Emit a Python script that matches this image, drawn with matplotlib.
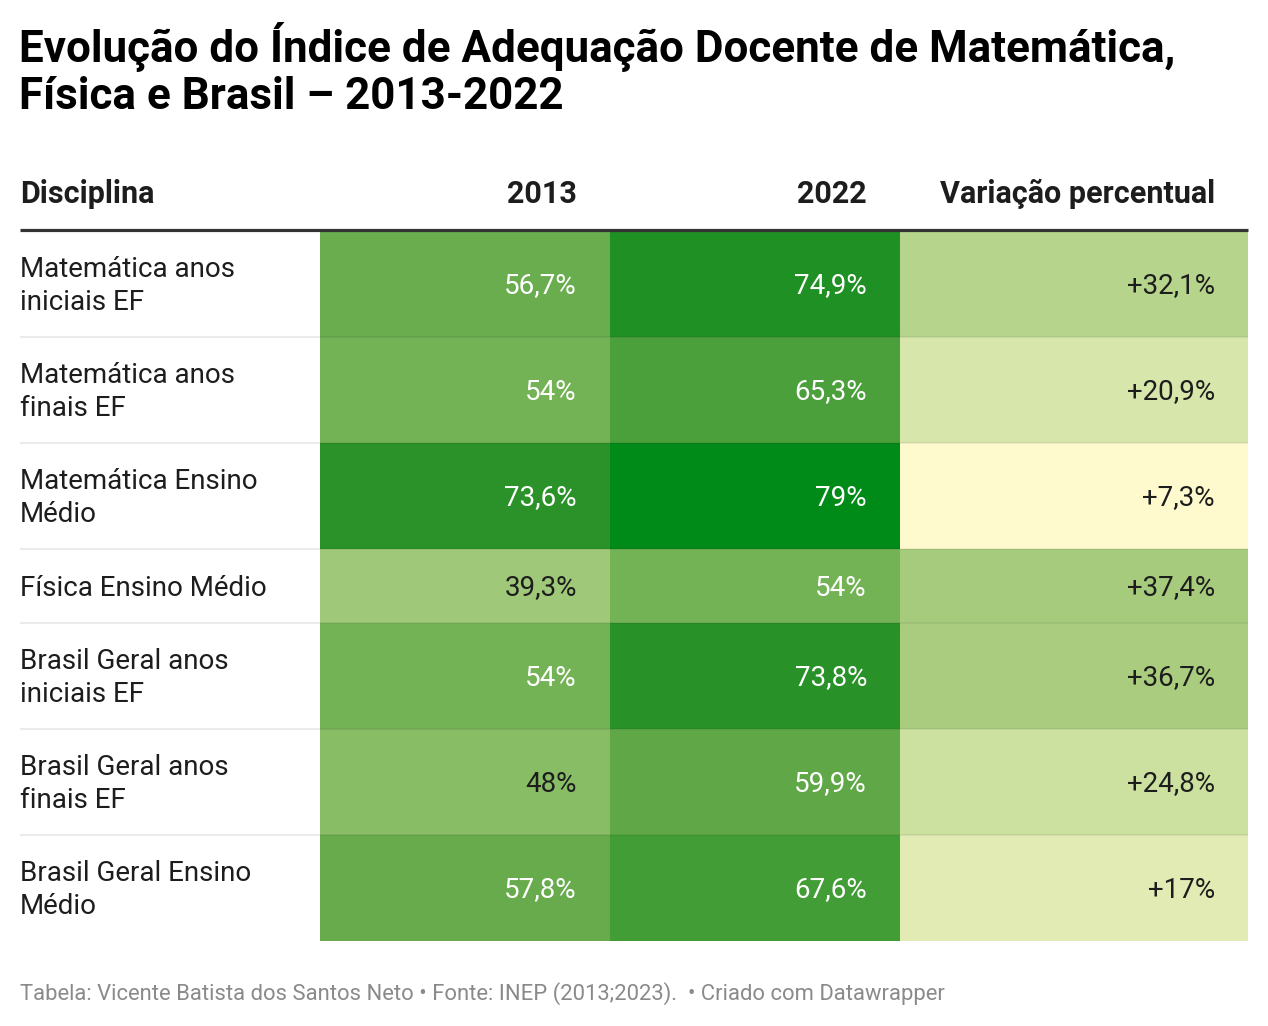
import matplotlib
matplotlib.use("Agg")
import matplotlib.pyplot as plt
from matplotlib.colors import LinearSegmentedColormap, Normalize
from matplotlib.patches import Rectangle

plt.rcParams['font.family'] = ['Roboto', 'DejaVu Sans']

title = "Evolução do Índice de Adequação Docente de Matemática,\nFísica e Brasil – 2013-2022"
headers = ["Disciplina", "2013", "2022", "Variação percentual"]
disciplinas = [
    "Matemática anos\niniciais EF",
    "Matemática anos\nfinais EF",
    "Matemática Ensino\nMédio",
    "Física Ensino Médio",
    "Brasil Geral anos\niniciais EF",
    "Brasil Geral anos\nfinais EF",
    "Brasil Geral Ensino\nMédio",
]
v2013 = [56.7, 54, 73.6, 39.3, 54, 48, 57.8]
v2022 = [74.9, 65.3, 79, 54, 73.8, 59.9, 67.6]
variacao = [32.1, 20.9, 7.3, 37.4, 36.7, 24.8, 17]
footer = "Tabela: Vicente Batista dos Santos Neto • Fonte: INEP (2013;2023).  • Criado com Datawrapper"

# colour scale (Datawrapper-like yellow -> green)
vmin, vmax = 7.3, 79.0
stops = [(7.3, "#fffacd"), (17, "#e2ebb4"), (24.8, "#cce0a0"), (37.4, "#a6cb7d"),
         (48, "#88bc65"), (57.8, "#67ab4c"), (67.6, "#449d36"), (73.6, "#2b9229"),
         (79, "#008a17")]
cmap = LinearSegmentedColormap.from_list(
    "dw", [((s - vmin) / (vmax - vmin), c) for s, c in stops])
norm = Normalize(vmin, vmax)

def fmt(v, plus=False):
    s = ("%g" % v).replace(".", ",") + "%"
    return ("+" + s) if plus else s

W, H = 1268, 1026
fig = plt.figure(figsize=(W / 100, H / 100), dpi=100)
ax = fig.add_axes([0, 0, 1, 1])
ax.set_xlim(0, W)
ax.set_ylim(H, 0)
ax.axis("off")

# title
ax.text(19, 70, title, fontsize=31.7, fontweight="bold", color="#000000",
        ha="left", va="center", linespacing=1.15)

# column geometry
col_edges = [20, 320, 610, 900, 1248]
text_right = [None, 577, 867, 1215]
header_y = 194
ax.text(20, header_y, headers[0], fontsize=22, fontweight="bold", color="#1d1d1d",
        ha="left", va="center")
for j in range(1, 4):
    ax.text(text_right[j], header_y, headers[j], fontsize=22, fontweight="bold",
            color="#1d1d1d", ha="right", va="center")
ax.plot([20, 1248], [229.5, 229.5], color="#333333", lw=2.3, solid_capstyle="butt")

y = 231
for i, lab in enumerate(disciplinas):
    h = 106 if "\n" in lab else 74
    cy = y + h / 2
    vals = [v2013[i], v2022[i], variacao[i]]
    for j, v in enumerate(vals):
        x0, x1 = col_edges[j + 1], col_edges[j + 2]
        ax.add_patch(Rectangle((x0, y), x1 - x0, h, facecolor=cmap(norm(v)),
                               edgecolor="none"))
        tc = "#ffffff" if v >= 50 else "#1d1d1d"
        ax.text(text_right[j + 1], cy + 2, fmt(v, plus=(j == 2)), fontsize=20,
                color=tc, ha="right", va="center")
    ax.text(20, cy + 2, lab, fontsize=20, color="#1d1d1d", ha="left",
            va="center", linespacing=1.28)
    if i < len(disciplinas) - 1:
        ax.plot([20, 320], [y + h, y + h], color="#ebebeb", lw=1.5,
                solid_capstyle="butt")
        ax.plot([320, 1248], [y + h, y + h], color="#000000", alpha=0.06, lw=1.5,
                solid_capstyle="butt")
    y += h

ax.text(20, 994, footer, fontsize=15.8, color="#8a8a8a", ha="left", va="center")

fig.savefig("out.png", dpi=100)
